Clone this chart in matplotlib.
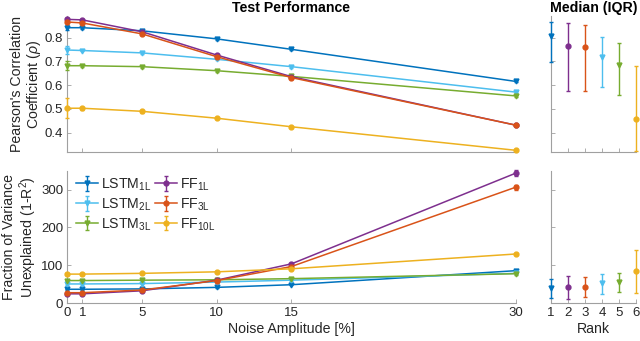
import matplotlib
matplotlib.use("Agg")
import matplotlib.pyplot as plt
import numpy as np

plt.rcParams['font.family'] = ['Liberation Sans', 'DejaVu Sans']
plt.rcParams['mathtext.fontset'] = 'custom'
plt.rcParams['mathtext.rm'] = 'Liberation Sans'
plt.rcParams['mathtext.it'] = 'Liberation Sans:italic'
plt.rcParams['mathtext.bf'] = 'Liberation Sans:bold'

noise = [0, 1, 5, 10, 15, 30]
names = [r'LSTM$_{\mathrm{1L}}$', r'LSTM$_{\mathrm{2L}}$', r'LSTM$_{\mathrm{3L}}$',
         r'FF$_{\mathrm{1L}}$', r'FF$_{\mathrm{3L}}$', r'FF$_{\mathrm{10L}}$']
colors = ['#0072BD', '#4DBEEE', '#77AC30', '#7E2F8E', '#D95319', '#EDB120']
markers = ['v', 'v', 'v', 'o', 'o', 'o']

# Pearson's correlation coefficient
rho_lstm1 = [0.842, 0.842, 0.829, 0.795, 0.751, 0.616]
rho_lstm2 = [0.748, 0.746, 0.736, 0.709, 0.678, 0.571]
rho_lstm3 = [0.682, 0.682, 0.678, 0.661, 0.637, 0.555]
rho_ff1 = [0.877, 0.875, 0.825, 0.727, 0.636, 0.432]
rho_ff3 = [0.866, 0.862, 0.816, 0.720, 0.632, 0.432]
rho_ff10 = [0.503, 0.503, 0.490, 0.461, 0.425, 0.326]
rho_err_lstm1 = [0.010, 0.004, 0.004, 0.004, 0.004, 0.004]
rho_err_lstm2 = [0.016, 0.004, 0.004, 0.004, 0.004, 0.004]
rho_err_lstm3 = [0.020, 0.004, 0.004, 0.004, 0.004, 0.004]
rho_err_ff1 = [0.005, 0.004, 0.004, 0.004, 0.004, 0.004]
rho_err_ff3 = [0.005, 0.004, 0.004, 0.004, 0.004, 0.004]
rho_err_ff10 = [0.042, 0.006, 0.006, 0.005, 0.005, 0.005]

# Fraction of variance unexplained
fvu_lstm1 = [37, 37, 38, 42, 49, 86]
fvu_lstm2 = [51, 51, 52, 56, 61, 79]
fvu_lstm3 = [60, 60, 61, 62, 65, 78]
fvu_ff1 = [25, 25, 33, 61, 104, 343]
fvu_ff3 = [28, 28, 35, 60, 97, 306]
fvu_ff10 = [77, 77, 79, 83, 91, 130]
fvu_err_lstm1 = [2, 2, 2, 2, 2, 3]
fvu_err_lstm2 = [2, 2, 2, 2, 2, 3]
fvu_err_lstm3 = [2, 2, 2, 2, 2, 3]
fvu_err_ff1 = [2, 2, 2, 2, 3, 8]
fvu_err_ff3 = [2, 2, 2, 2, 3, 6]
fvu_err_ff10 = [2, 2, 2, 2, 2, 3]

# Median (IQR) by rank: LSTM1L, FF1L, FF3L, LSTM2L, LSTM3L, FF10L
rank = [1, 2, 3, 4, 5, 6]
rank_idx = [0, 3, 4, 1, 2, 5]
rho_med = [0.807, 0.764, 0.761, 0.717, 0.684, 0.458]
rho_q1 = [0.696, 0.576, 0.576, 0.594, 0.557, 0.324]
rho_q3 = [0.866, 0.861, 0.852, 0.802, 0.776, 0.681]
fvu_med = [41, 44, 44, 54, 56, 85]
fvu_q1 = [14, 12, 17, 25, 30, 27]
fvu_q3 = [65, 72, 69, 78, 81, 141]

rho_all = [rho_lstm1, rho_lstm2, rho_lstm3, rho_ff1, rho_ff3, rho_ff10]
rho_err = [rho_err_lstm1, rho_err_lstm2, rho_err_lstm3, rho_err_ff1, rho_err_ff3, rho_err_ff10]
fvu_all = [fvu_lstm1, fvu_lstm2, fvu_lstm3, fvu_ff1, fvu_ff3, fvu_ff10]
fvu_err = [fvu_err_lstm1, fvu_err_lstm2, fvu_err_lstm3, fvu_err_ff1, fvu_err_ff3, fvu_err_ff10]

fig = plt.figure(figsize=(6.4, 3.41), dpi=100)
W, H = 640, 341
def ax_at(x0, y0, x1, y1):
    return fig.add_axes([x0 / W, 1 - y1 / H, (x1 - x0) / W, (y1 - y0) / H])

ax1 = ax_at(67.3, 16.3, 515.5, 151.7)
ax2 = ax_at(67.3, 170.6, 515.5, 303.3)
ax3 = ax_at(550.7, 16.3, 636.0, 151.7)
ax4 = ax_at(550.7, 170.6, 636.0, 303.3)

spine_c = '#a0a0a0'
text_c = '#262626'
tick_fs = 9.5
lab_fs = 10.2

def style(ax):
    for s in ['top', 'right']:
        ax.spines[s].set_visible(False)
    for s in ['left', 'bottom']:
        ax.spines[s].set_color(spine_c)
        ax.spines[s].set_linewidth(0.8)
    ax.tick_params(direction='in', length=3, width=0.6, color=spine_c,
                   labelcolor=text_c, labelsize=tick_fs, pad=3)

eb_kw = dict(lw=1.1, markersize=3.5, capsize=1.5, elinewidth=1.0, capthick=1.0)

handles = []
for i in range(6):
    ax1.errorbar(noise, rho_all[i], yerr=rho_err[i], color=colors[i], marker=markers[i],
                 clip_on=False, zorder=3, **eb_kw)
    h = ax2.errorbar(noise, fvu_all[i], yerr=fvu_err[i], color=colors[i], marker=markers[i],
                     clip_on=False, zorder=3, label=names[i], **eb_kw)
    handles.append(h)

for j, r in enumerate(rank):
    i = rank_idx[j]
    ax3.errorbar([r], [rho_med[j]],
                 yerr=[[rho_med[j] - rho_q1[j]], [rho_q3[j] - rho_med[j]]],
                 color=colors[i], marker=markers[i], clip_on=False, zorder=3, **eb_kw)
    ax4.errorbar([r], [fvu_med[j]],
                 yerr=[[fvu_med[j] - fvu_q1[j]], [fvu_q3[j] - fvu_med[j]]],
                 color=colors[i], marker=markers[i], clip_on=False, zorder=3, **eb_kw)

for ax in [ax1, ax2, ax3, ax4]:
    style(ax)

for ax in [ax1, ax2]:
    ax.set_xlim(0, 30)
    ax.set_xticks(noise)
for ax in [ax3, ax4]:
    ax.set_xlim(1, 6)
    ax.set_xticks(rank)

for ax in [ax1, ax3]:
    ax.set_ylim(0.32, 0.89)
    ax.set_yticks([0.4, 0.5, 0.6, 0.7, 0.8])
    ax.set_xticklabels([])
for ax in [ax2, ax4]:
    ax.set_ylim(0, 350)
    ax.set_yticks([0, 100, 200, 300])
ax3.set_yticklabels([])
ax4.set_yticklabels([])

ax1.set_ylabel("Pearson's Correlation\nCoefficient ($\\rho$)", fontsize=lab_fs, color=text_c,
               linespacing=1.1, labelpad=1)
ax2.set_ylabel("Fraction of Variance\nUnexplained (1-R$^2$)", fontsize=lab_fs, color=text_c,
               linespacing=1.1, labelpad=1)
ax2.set_xlabel("Noise Amplitude [%]", fontsize=lab_fs, color=text_c, labelpad=2)
ax4.set_xlabel("Rank", fontsize=lab_fs, color=text_c, labelpad=2)
ax1.set_title("Test Performance", fontsize=lab_fs, fontweight='bold', color='black', pad=3)
ax3.set_title("Median (IQR)", fontsize=lab_fs, fontweight='bold', color='black', pad=3)

leg = ax2.legend(handles=handles, ncol=2, loc='upper left', frameon=False,
                 fontsize=lab_fs, handlelength=1.6, handletextpad=0.2,
                 columnspacing=0.2, labelspacing=0.25, borderaxespad=0.2,
                 bbox_to_anchor=(0.0, 1.02))
for t in leg.get_texts():
    t.set_color(text_c)

fig.savefig('out.png', dpi=100)
